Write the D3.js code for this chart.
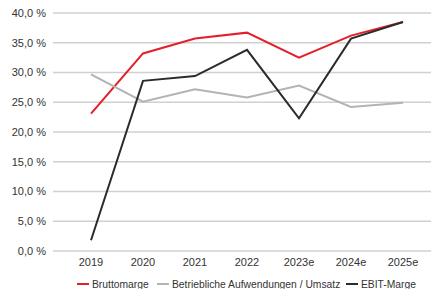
<!DOCTYPE html>
<html>
<head>
<meta charset="utf-8">
<script src="https://cdn.jsdelivr.net/npm/d3@7"></script>
<style>
  body { margin: 0; background: #fff; }
  text { font-family: "Liberation Sans", Arial, sans-serif; fill: #333; }
</style>
</head>
<body>
<div id="container"></div>
<script>
let years = ["2019", "2020", "2021", "2022", "2023e", "2024e", "2025e"];
let bruttomarge = [23.1, 33.2, 35.7, 36.7, 32.5, 36.2, 38.5];
let aufwendungen = [29.7, 25.1, 27.2, 25.8, 27.8, 24.2, 24.9];
let ebitMarge = [1.8, 28.6, 29.4, 33.8, 22.3, 35.7, 38.5];
let yTicks = [0, 5, 10, 15, 20, 25, 30, 35, 40];

let seriesNames = ["Bruttomarge", "Betriebliche Aufwendungen / Umsatz", "EBIT-Marge"];
let seriesColors = ["#e3202a", "#b3b3b3", "#2b2b2b"];
let seriesValues = [bruttomarge, aufwendungen, ebitMarge];

let width = 432, height = 289;

let svg = d3.select("#container").append("svg")
    .attr("width", width)
    .attr("height", height);

let xScale = d3.scalePoint()
    .domain(years)
    .range([91, 403]);

let yScale = d3.scaleLinear()
    .domain([0, 40])
    .range([251, 13]);

// gridlines
svg.append("g")
    .selectAll("line")
    .data(yTicks)
    .enter().append("line")
      .attr("x1", 53)
      .attr("x2", 431)
      .attr("y1", d => yScale(d))
      .attr("y2", d => yScale(d))
      .attr("stroke", "#d0d0d0")
      .attr("stroke-width", 1.3);

// y labels
svg.append("g")
    .selectAll("text")
    .data(yTicks)
    .enter().append("text")
      .attr("x", 46)
      .attr("y", d => yScale(d))
      .attr("dy", "0.35em")
      .attr("text-anchor", "end")
      .attr("font-size", 11)
      .text(d => d3.format(".1f")(d).replace(".", ",") + " %");

// x labels
svg.append("g")
    .selectAll("text")
    .data(years)
    .enter().append("text")
      .attr("x", d => xScale(d))
      .attr("y", 262)
      .attr("dy", "0.35em")
      .attr("text-anchor", "middle")
      .attr("font-size", 11)
      .text(d => d);

let line = d3.line()
    .x((d, i) => xScale(years[i]))
    .y(d => yScale(d));

svg.append("g")
    .selectAll("path")
    .data(seriesValues)
    .enter().append("path")
      .attr("d", d => line(d))
      .attr("fill", "none")
      .attr("stroke", (d, i) => seriesColors[i])
      .attr("stroke-width", 2)
      .attr("stroke-linejoin", "miter");

// legend
let legendX = [77, 157, 346];
let legend = svg.selectAll(".legend")
    .data(seriesNames)
    .enter().append("g")
      .attr("class", "legend")
      .attr("transform", (d, i) => "translate(" + legendX[i] + ",284)");

legend.append("line")
    .attr("x1", 0)
    .attr("x2", 12)
    .attr("stroke", (d, i) => seriesColors[i])
    .attr("stroke-width", 2);

legend.append("text")
    .attr("x", 15)
    .attr("dy", "0.35em")
    .attr("font-size", 10.3)
    .text(d => d);
</script>
</body>
</html>
